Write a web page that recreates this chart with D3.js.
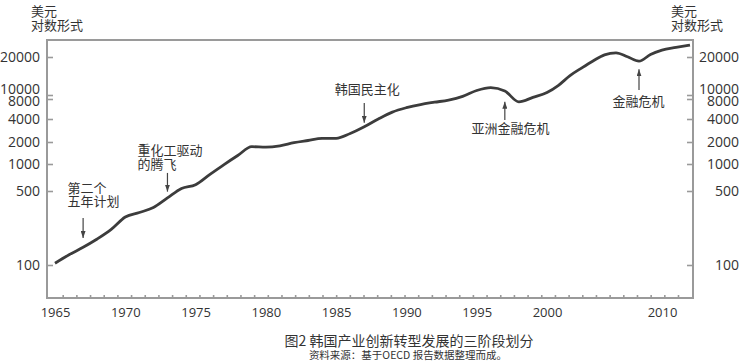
<!DOCTYPE html>
<html>
<head>
<meta charset="utf-8">
<script src="https://cdn.jsdelivr.net/npm/d3@7"></script>
<style>
  body { margin: 0; background: #fff; }
  svg { display: block; font-family: "Open Sans", "Noto Sans CJK SC", sans-serif; }
  .cjk { font-family: "Noto Sans CJK SC", sans-serif; }
</style>
</head>
<body>
<svg id="chart" width="745" height="363"></svg>
<script>
// ---- data ----------------------------------------------------------------
var years = [1965, 1966, 1967, 1968, 1969, 1970, 1971, 1972, 1973, 1974,
             1975, 1976, 1977, 1978, 1979, 1980, 1981, 1982, 1983, 1984,
             1985, 1986, 1987, 1988, 1989, 1990, 1991, 1992, 1993, 1994,
             1995, 1996, 1997, 1998, 1999, 2000, 2001, 2002, 2003, 2004,
             2005, 2006, 2007, 2008, 2009, 2010, 2011, 2012];
var gdpPerCapita = [104, 125, 147, 176, 217, 284, 313, 349, 430, 533,
                    588, 762, 980, 1307, 1725, 1703, 1774, 1956, 2092, 2229,
                    2236, 2584, 3162, 4000, 5080, 5918, 6611, 7158, 7700, 9247,
                    10855, 11446, 10757, 7259, 8746, 10467, 11935, 14246, 16336, 18590,
                    20815, 21594, 20109, 18520, 20929, 22690, 23791, 24889];
var yTickValues = [100, 500, 1000, 2000, 4000, 8000, 10000, 20000];
var xTickLabels = [1965, 1970, 1975, 1980, 1985, 1990, 1995, 2000, 2010];
var noteText = [["第二个", "五年计划"], ["重化工驱动", "的腾飞"], ["韩国民主化"],
                ["亚洲金融危机"], ["金融危机"]];
var noteYear = [1967, 1973, 1987, 1997, 2008];

// ---- layout ---------------------------------------------------------------
var L = 47, R = 693, T = 40, B = 298;
var Y_TICK_PX = [265, 191, 164, 142, 119, 99, 95, 57];   // the printed axis is not a clean log
var LABEL_NUDGE = { 8000: 2.5, 10000: -5.5 };           // stacked labels near 8000/10000
var X_ANCHOR_YEARS = [1965, 2000, 2010, 2012], X_ANCHOR_PX = [55, 547, 662, 690];
// arrow: dir, gap to line, length; text: dx from arrow, baselines relative to tip
var noteLayout = [
  { dir: -1, gap: 9.4, len: 20,   dx: -15.7, dy: [-44.5, -31.5] },
  { dir: -1, gap: 6.3, len: 18.7, dx: -30,   dy: [-36.7, -22.7] },
  { dir: -1, gap: 4.1, len: 19.7, dx: -29.4, dy: [-29.2] },
  { dir: 1,  gap: 10.7, len: 18.3, dx: -33.3, dy: [31.8] },
  { dir: 1,  gap: 8.1, len: 20.7, dx: -26.6, dy: [36.7] }
];
var INK = "#333", FRAME = "#9a9a9a";

var svg = d3.select("#chart");

var x = d3.scaleLinear().domain(X_ANCHOR_YEARS).range(X_ANCHOR_PX);
var yL = d3.scaleLinear().domain(yTickValues.map(Math.log10)).range(Y_TICK_PX);
function y(v) { return yL(Math.log10(v)); }

// frame
svg.append("rect").attr("x", L).attr("y", T).attr("width", R - L).attr("height", B - T)
  .attr("fill", "none").attr("stroke", FRAME).attr("stroke-width", 2);

function styleAxis(g, size) {
  g.select(".domain").remove();
  g.selectAll("line").attr("stroke", FRAME).attr("stroke-width", 1.6);
  g.selectAll("text").attr("fill", INK).style("font-size", size + "px")
    .style("font-family", "'Open Sans', sans-serif");
}

var fmt = function (d) { return Math.round(Math.pow(10, d)); };
function nudge(g) {
  g.selectAll(".tick text").attr("transform", function (d) {
    return "translate(0," + (LABEL_NUDGE[fmt(d)] || 0) + ")";
  });
}
var gl = svg.append("g").attr("transform", "translate(" + L + ",0)")
  .call(d3.axisLeft(yL).tickValues(yTickValues.map(Math.log10))
    .tickSizeInner(-6).tickSizeOuter(0).tickPadding(7).tickFormat(fmt));
styleAxis(gl, 14);
nudge(gl);
var gr = svg.append("g").attr("transform", "translate(" + R + ",0)")
  .call(d3.axisRight(yL).tickValues(yTickValues.map(Math.log10))
    .tickSizeInner(-6).tickSizeOuter(0).tickPadding(46).tickFormat(fmt));
styleAxis(gr, 14);
gr.selectAll("text").attr("text-anchor", "end");
nudge(gr);

// yearly minor ticks (evenly spaced in the print)
var xMinor = d3.scaleLinear().domain([0, 45]).range([62.7, 678]);
var gm = svg.append("g").attr("transform", "translate(0," + B + ")")
  .call(d3.axisBottom(xMinor).tickValues(d3.range(46)).tickSizeInner(-3)
    .tickSizeOuter(0).tickFormat(""));
styleAxis(gm, 13);

var gx = svg.append("g").attr("transform", "translate(0," + B + ")")
  .call(d3.axisBottom(x).tickValues(xTickLabels).tickSize(0).tickPadding(10)
    .tickFormat(d3.format("d")));
styleAxis(gx, 13);

// unit labels
[31, 671].forEach(function (ux) {
  svg.append("text").attr("class", "cjk").attr("x", ux).attr("y", 16)
    .attr("fill", INK).style("font-size", "13px").text("美元");
  svg.append("text").attr("class", "cjk").attr("x", ux).attr("y", 30)
    .attr("fill", INK).style("font-size", "13px").text("对数形式");
});

// series
var pts = years.map(function (yr, i) { return [yr, gdpPerCapita[i]]; });
svg.append("path").datum(pts)
  .attr("d", d3.line().x(function (d) { return x(d[0]); })
    .y(function (d) { return y(d[1]); }).curve(d3.curveMonotoneX))
  .attr("fill", "none").attr("stroke", "#3c3c3c").attr("stroke-width", 2.8)
  .attr("stroke-linejoin", "round");

// annotations
svg.append("defs").append("marker").attr("id", "ah")
  .attr("viewBox", "0 0 7 5").attr("refX", 7).attr("refY", 2.5)
  .attr("markerWidth", 7).attr("markerHeight", 5)
  .attr("markerUnits", "userSpaceOnUse").attr("orient", "auto")
  .append("path").attr("d", "M0,0L7,2.5L0,5Z").attr("fill", "#444");

noteYear.forEach(function (yr, i) {
  var lay = noteLayout[i];
  var ax = x(yr);
  var lineY = y(gdpPerCapita[years.indexOf(yr)]);
  var tip = lineY + lay.dir * lay.gap;
  svg.append("line").attr("x1", ax).attr("x2", ax)
    .attr("y1", tip + lay.dir * lay.len).attr("y2", tip)
    .attr("stroke", "#444").attr("stroke-width", 1.2).attr("marker-end", "url(#ah)");
  noteText[i].forEach(function (t, k) {
    svg.append("text").attr("class", "cjk").attr("x", ax + lay.dx).attr("y", tip + lay.dy[k])
      .attr("fill", INK).style("font-size", "13px").text(t);
  });
});

// caption
svg.append("text").attr("class", "cjk").attr("x", 409).attr("y", 346)
  .attr("text-anchor", "middle").attr("fill", INK).style("font-size", "14px")
  .text("图2 韩国产业创新转型发展的三阶段划分");
svg.append("text").attr("class", "cjk").attr("x", 408).attr("y", 359)
  .attr("text-anchor", "middle").attr("fill", INK).style("font-size", "10.5px")
  .text("资料来源：基于OECD 报告数据整理而成。");
</script>
</body>
</html>
